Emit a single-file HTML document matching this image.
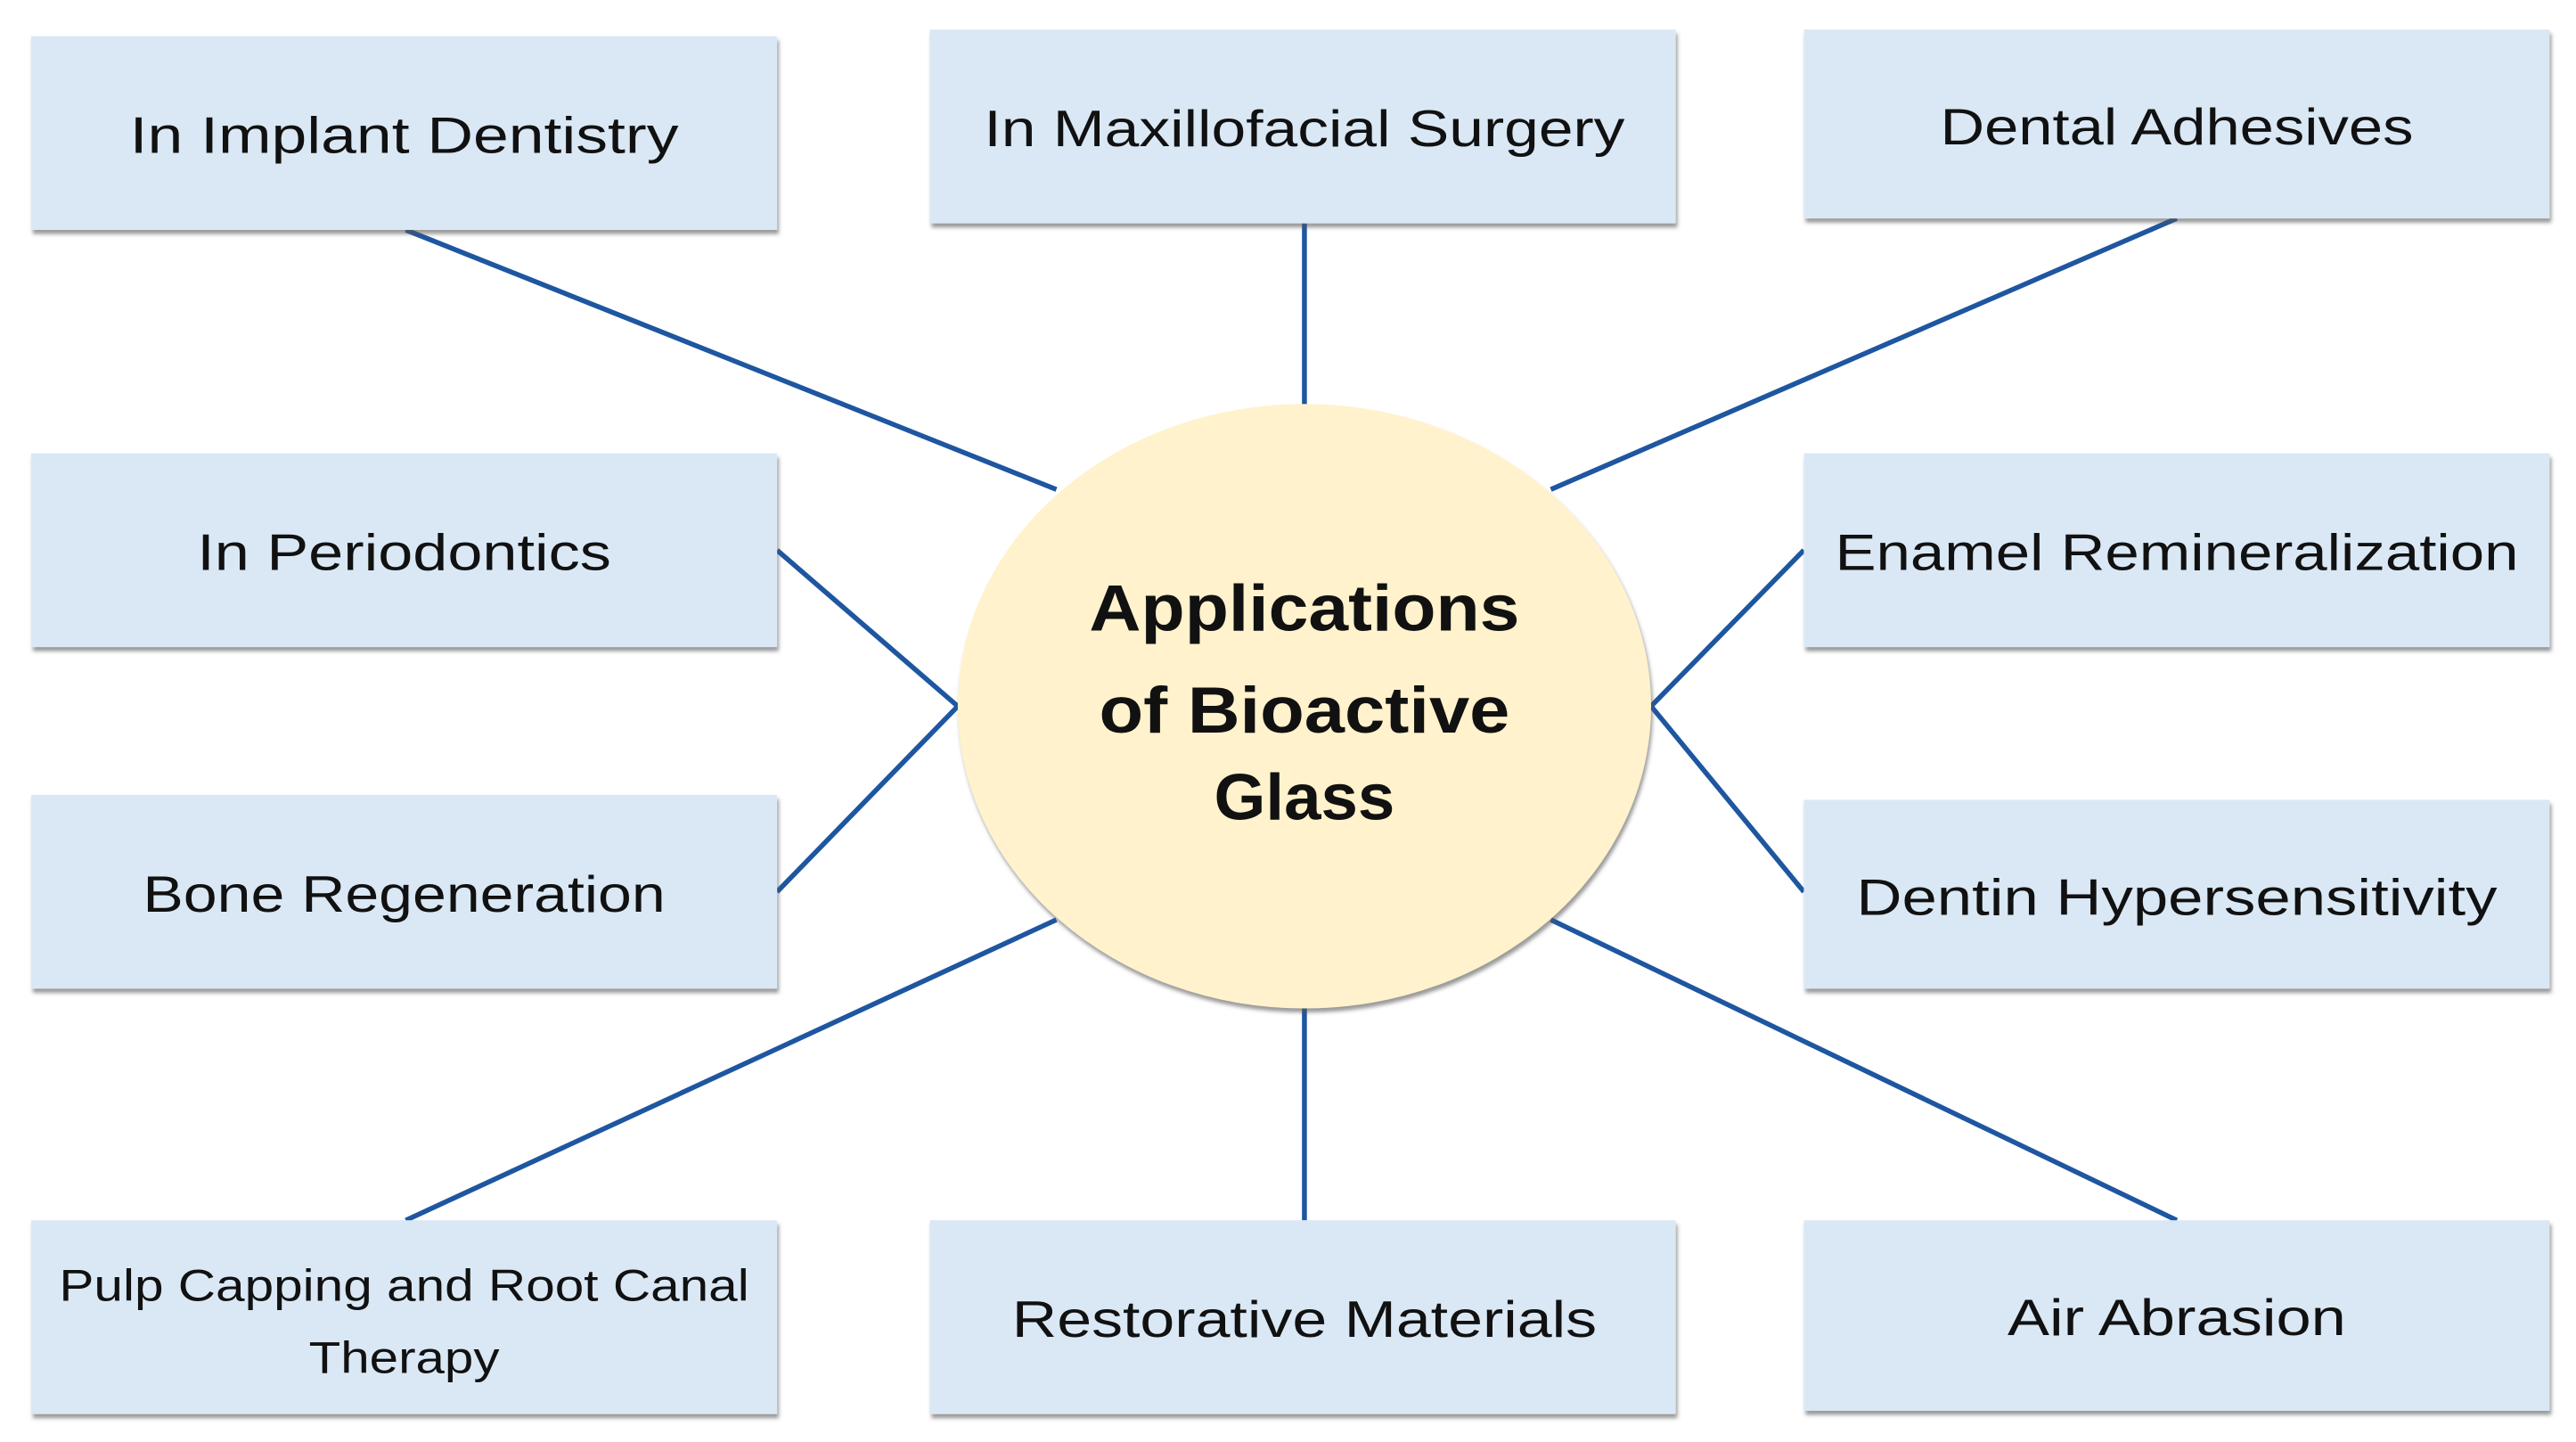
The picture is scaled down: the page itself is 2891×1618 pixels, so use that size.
<!DOCTYPE html>
<html><head><meta charset="utf-8"><style>
html,body{margin:0;padding:0;background:#fff;}
svg{display:block;}
text{font-family:"Liberation Sans",sans-serif;fill:#111;}
</style></head><body>
<svg width="2891" height="1618" viewBox="0 0 1568 878" preserveAspectRatio="none" xmlns="http://www.w3.org/2000/svg">
<defs>
<filter id="sh" x="-5%" y="-5%" width="110%" height="120%"><feDropShadow dx="1" dy="2.5" stdDeviation="1.2" flood-color="#555" flood-opacity="0.6"/></filter>
</defs>
<rect width="1568" height="878" fill="#fff"/>
<g stroke="#1e56a0" stroke-width="3" fill="none">
<line x1="247" y1="140" x2="643" y2="298"/>
<line x1="794" y1="136" x2="794" y2="246"/>
<line x1="1325" y1="133" x2="944" y2="298"/>
<line x1="473" y1="335" x2="583" y2="430"/>
<line x1="473" y1="543" x2="583" y2="430"/>
<line x1="1098" y1="335" x2="1005" y2="430"/>
<line x1="1098" y1="543" x2="1005" y2="430"/>
<line x1="247" y1="743" x2="643" y2="560"/>
<line x1="794" y1="613" x2="794" y2="743"/>
<line x1="1325" y1="743" x2="944" y2="560"/>
</g>
<g fill="#dae8f5" filter="url(#sh)">
<rect x="19" y="22" width="454" height="118"/>
<rect x="566" y="18" width="454" height="118"/>
<rect x="1098" y="18" width="454" height="115"/>
<rect x="19" y="276" width="454" height="118"/>
<rect x="1098" y="276" width="454" height="118"/>
<rect x="19" y="484" width="454" height="118"/>
<rect x="1098" y="487" width="454" height="115"/>
<rect x="19" y="743" width="454" height="118"/>
<rect x="566" y="743" width="454" height="118"/>
<rect x="1098" y="743" width="454" height="116"/>
</g>
<ellipse cx="794" cy="430" rx="211" ry="184" fill="#fff2cc" filter="url(#sh)"/>
<g font-size="31" text-anchor="middle">
<text x="246" y="93" textLength="334" lengthAdjust="spacingAndGlyphs">In Implant Dentistry</text>
<text x="794" y="89" textLength="390" lengthAdjust="spacingAndGlyphs">In Maxillofacial Surgery</text>
<text x="1325" y="88" textLength="288" lengthAdjust="spacingAndGlyphs">Dental Adhesives</text>
<text x="246" y="347" textLength="252" lengthAdjust="spacingAndGlyphs">In Periodontics</text>
<text x="1325" y="347" textLength="416" lengthAdjust="spacingAndGlyphs">Enamel Remineralization</text>
<text x="246" y="555" textLength="318" lengthAdjust="spacingAndGlyphs">Bone Regeneration</text>
<text x="1325" y="557" textLength="390" lengthAdjust="spacingAndGlyphs">Dentin Hypersensitivity</text>
<text x="794" y="814" textLength="356" lengthAdjust="spacingAndGlyphs">Restorative Materials</text>
<text x="1325" y="813" textLength="206" lengthAdjust="spacingAndGlyphs">Air Abrasion</text>
</g>
<g font-size="27" text-anchor="middle">
<text x="246" y="792" textLength="420" lengthAdjust="spacingAndGlyphs">Pulp Capping and Root Canal</text>
<text x="246" y="836" textLength="116" lengthAdjust="spacingAndGlyphs">Therapy</text>
</g>
<g font-size="40" font-weight="bold" text-anchor="middle">
<text x="794" y="384" textLength="262" lengthAdjust="spacingAndGlyphs">Applications</text>
<text x="794" y="446" textLength="250" lengthAdjust="spacingAndGlyphs">of Bioactive</text>
<text x="794" y="499" textLength="110" lengthAdjust="spacingAndGlyphs">Glass</text>
</g>
</svg>
</body></html>
